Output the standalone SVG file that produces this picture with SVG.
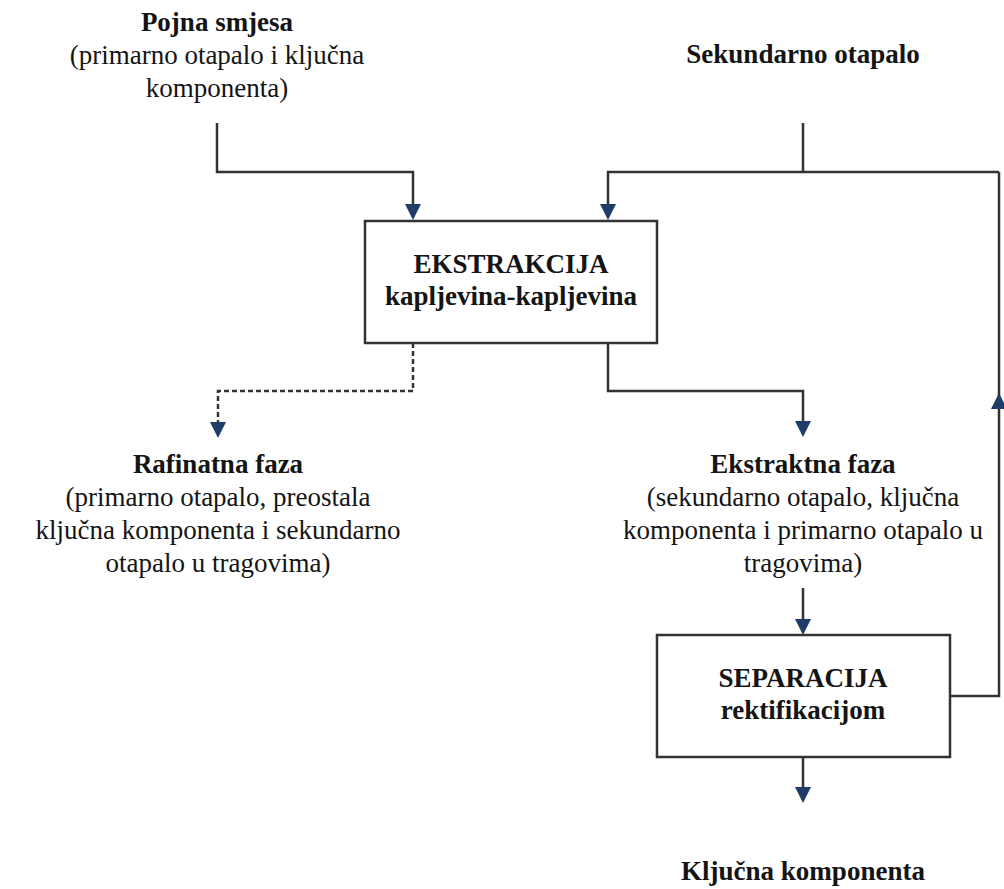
<svg xmlns="http://www.w3.org/2000/svg" width="1004" height="889" viewBox="0 0 1004 889">
<style>
text{font-family:"Liberation Serif","Times New Roman",serif;font-size:27px;fill:#141414;text-anchor:middle}
.b{font-weight:bold}
.ln{fill:none;stroke:#333;stroke-width:2.5}
.dash{stroke-dasharray:5 3}
.box{fill:#fff;stroke:#333;stroke-width:2.5}
</style>
<defs>
<marker id="ah" markerUnits="userSpaceOnUse" viewBox="0 0 16 16" refX="13" refY="8" markerWidth="16" markerHeight="16" orient="auto">
<path d="M0,0 L16,8 L0,16 z" fill="#1e3e68"/>
</marker>
</defs>
<g id="connectors">
<path class="ln" d="M217,123 V172 H413 V217" marker-end="url(#ah)"/>
<path class="ln" d="M803,123 V172"/>
<path class="ln" d="M999,172 H608 V217" marker-end="url(#ah)"/>
<path class="ln dash" d="M413,343 V391 H218 V435" marker-end="url(#ah)"/>
<path class="ln" d="M608,343 V391 H803 V434" marker-end="url(#ah)"/>
<path class="ln" d="M803,588 V632" marker-end="url(#ah)"/>
<path class="ln" d="M950,696 H999 V396" marker-end="url(#ah)"/>
<path class="ln" d="M999,172 V396"/>
<path class="ln" d="M803,757 V800" marker-end="url(#ah)"/>
</g>
<g id="pojna">
<text class="b" x="217" y="31">Pojna smjesa</text>
<text x="217" y="64">(primarno otapalo i ključna</text>
<text x="217" y="97">komponenta)</text>
</g>
<g id="sekundarno">
<text class="b" x="803" y="63">Sekundarno otapalo</text>
</g>
<g id="ekstrakcija">
<rect class="box" x="365" y="221" width="292" height="122"/>
<text class="b" x="511" y="273">EKSTRAKCIJA</text>
<text class="b" x="511" y="305">kapljevina-kapljevina</text>
</g>
<g id="rafinatna">
<text class="b" x="218" y="473">Rafinatna faza</text>
<text x="218" y="506">(primarno otapalo, preostala</text>
<text x="218" y="539">ključna komponenta i sekundarno</text>
<text x="218" y="572">otapalo u tragovima)</text>
</g>
<g id="ekstraktna">
<text class="b" x="803" y="473">Ekstraktna faza</text>
<text x="803" y="506">(sekundarno otapalo, ključna</text>
<text x="803" y="539">komponenta i primarno otapalo u</text>
<text x="803" y="572">tragovima)</text>
</g>
<g id="separacija">
<rect class="box" x="657" y="635" width="293" height="122"/>
<text class="b" x="803" y="687">SEPARACIJA</text>
<text class="b" x="803" y="719">rektifikacijom</text>
</g>
<g id="kljucna">
<text class="b" x="803" y="880">Ključna komponenta</text>
</g>
</svg>
